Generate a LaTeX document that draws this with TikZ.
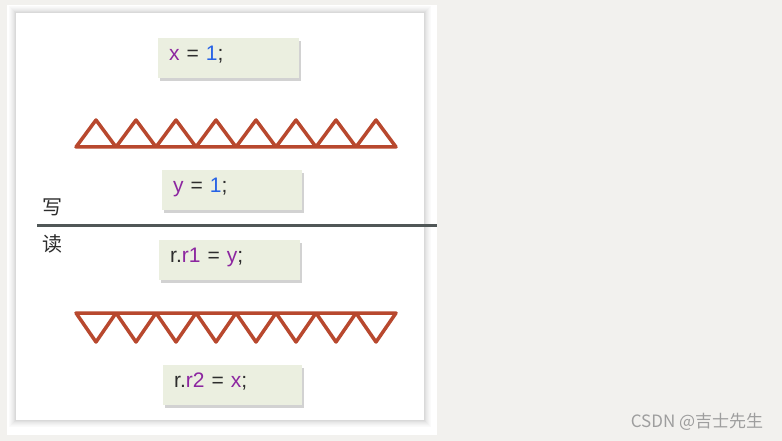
\documentclass[tikz,border=0pt]{standalone}
\usepackage{fontspec}
\setmainfont{Liberation Sans}
\newfontfamily\cjkfont{Noto Sans CJK SC}
\usepackage{tikz}
\usetikzlibrary{shadows}
\definecolor{pagebg}{RGB}{242,241,238}
\definecolor{codebg}{RGB}{235,239,224}
\definecolor{varpurple}{RGB}{140,38,160}
\definecolor{numblue}{RGB}{38,98,230}
\definecolor{barrier}{RGB}{184,72,46}
\definecolor{divider}{RGB}{80,87,87}
\definecolor{codetext}{RGB}{45,45,45}
\tikzset{
  stmt/.style      = {fill=codebg, anchor=north west, inner xsep=11pt, inner ysep=0pt,
                      minimum height=40pt, align=left, text=codetext,
                      text height=15pt, text depth=11pt,
                      font=\fontsize{21}{23}\selectfont,
                      drop shadow={shadow xshift=2pt, shadow yshift=-3pt,
                                   fill=black!35, opacity=0.5}},
  fence/.style     = {draw=barrier, line width=3.5pt, line join=round, line cap=round},
  sidelabel/.style = {font=\cjkfont\fontsize{20}{22}\selectfont, text=codetext},
}
\newcommand{\cvar}[1]{\textcolor{varpurple}{#1}}
\newcommand{\cnum}[1]{\textcolor{numblue}{#1}}

\begin{document}
\begin{tikzpicture}[x=1pt,y=-1pt]
  \useasboundingbox (0,0) rectangle (782,441);
  \fill[pagebg] (0,0) rectangle (782,441);

  % ---- white sheet with a soft rim ----------------------------------------
  \fill[white] (7,5) rectangle (437,435);
  \foreach \d/\s in {7/2,6/3,5/5,4/7,3/9,2/12,1/15}
    \fill[black!\s] (16-\d,13-\d) rectangle (424+\d,420+\d);
  \fill[white] (16,13) rectangle (424,420);

  % ---- write side ---------------------------------------------------------
  \node[stmt,text width=119pt] (wx) at (158,38) {\cvar{x} = \cnum{1};};
  \draw[fence] (76,147) \foreach \i in {0,...,7} { -- ++(20,-27) -- ++(20,27) } -- cycle;
  \node[stmt,text width=118pt] (wy) at (162,170) {\cvar{y} = \cnum{1};};

  % divider between the two threads
  \coordinate (divL) at (37,225);
  \coordinate (divR) at (437,225);
  \draw[divider,line width=3pt] (divL) -- (divR);
  \node[sidelabel] (wlabel) at (52,207) {写};
  \node[sidelabel] (rlabel) at (52,244) {读};

  % ---- read side ----------------------------------------------------------
  \node[stmt,text width=119pt] (ry) at (159,240) {r.\cvar{r1} = \cvar{y};};
  \draw[fence] (76,313) \foreach \i in {0,...,7} { -- ++(20,29) -- ++(20,-29) } -- cycle;
  \node[stmt,text width=117pt] (rx) at (163,365) {r.\cvar{r2} = \cvar{x};};

  % watermark
  \node[font=\cjkfont\fontsize{17}{19}\selectfont,text=black!38] (mark) at (697,422)
        {CSDN @吉士先生};
\end{tikzpicture}
\end{document}
